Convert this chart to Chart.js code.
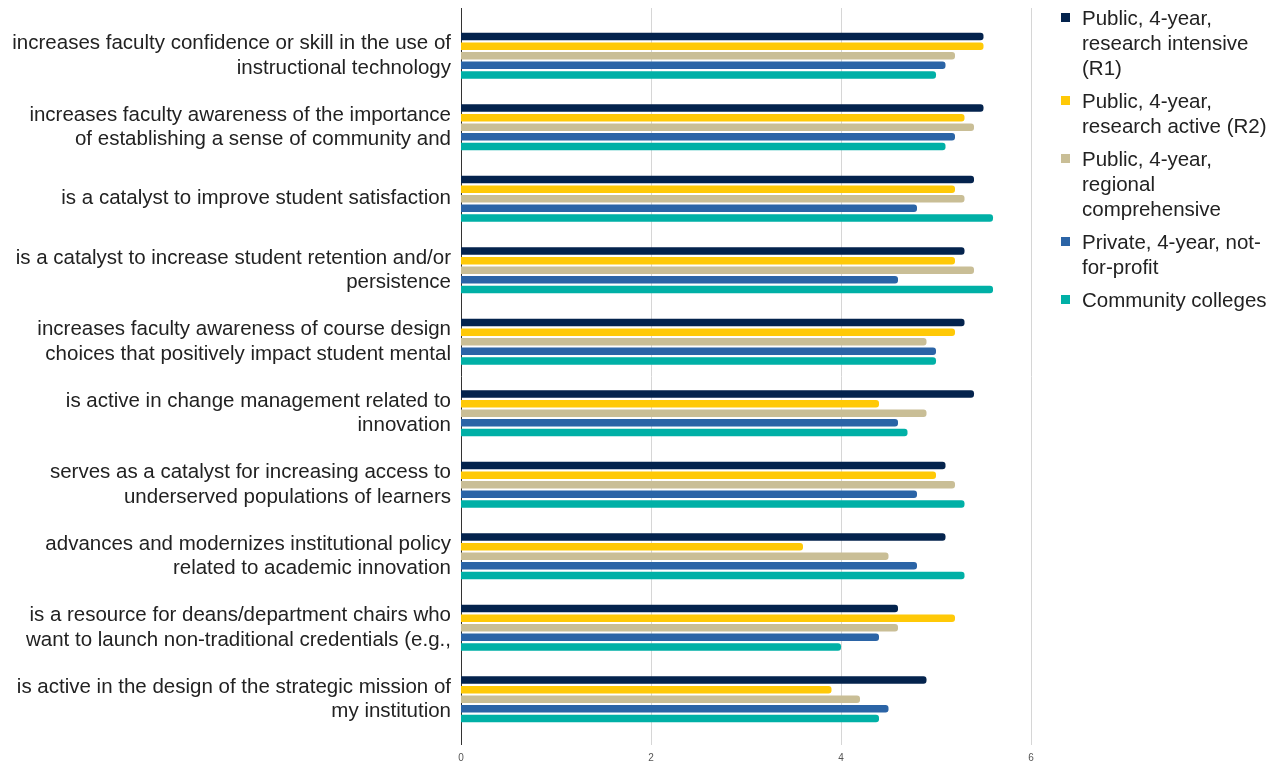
<!DOCTYPE html>
<html>
<head>
<meta charset="utf-8">
<script src="https://cdn.jsdelivr.net/npm/chart.js@4.4.0/dist/chart.umd.min.js"></script>
<style>
html, body { margin: 0; padding: 0; background: #fff; }
#wrap { position: relative; width: 1281px; height: 765px; }
#legend { position: absolute; left: 1061px; top: 5px; font: 20.5px "Liberation Sans", Arial, sans-serif; color: #222; }
.item { position: relative; padding-left: 21px; margin-bottom: 8px; line-height: 25px; white-space: nowrap; }
.sw { position: absolute; left: 0; top: 8px; width: 9px; height: 9px; }
</style>
</head>
<body>
<div id="wrap">
  <canvas id="chart" width="1281" height="765"></canvas>
  <div id="legend"></div>
</div>
<script>
const categories = [
    ['increases faculty confidence or skill in the use of', 'instructional technology'],
    ['increases faculty awareness of the importance', 'of establishing a sense of community and'],
    'is a catalyst to improve student satisfaction',
    ['is a catalyst to increase student retention and/or', 'persistence'],
    ['increases faculty awareness of course design', 'choices that positively impact student mental'],
    ['is active in change management related to', 'innovation'],
    ['serves as a catalyst for increasing access to', 'underserved populations of learners'],
    ['advances and modernizes institutional policy', 'related to academic innovation'],
    ['is a resource for deans/department chairs who', 'want to launch non-traditional credentials (e.g.,'],
    ['is active in the design of the strategic mission of', 'my institution']
];

const seriesNames = [
    ['Public, 4-year,', 'research intensive', '(R1)'],
    ['Public, 4-year,', 'research active (R2)'],
    ['Public, 4-year,', 'regional', 'comprehensive'],
    ['Private, 4-year, not-', 'for-profit'],
    ['Community colleges']
];

const r1Values       = [5.5, 5.5, 5.4, 5.3, 5.3, 5.4, 5.1, 5.1, 4.6, 4.9];
const r2Values       = [5.5, 5.3, 5.2, 5.2, 5.2, 4.4, 5.0, 3.6, 5.2, 3.9];
const regionalValues = [5.2, 5.4, 5.3, 5.4, 4.9, 4.9, 5.2, 4.5, 4.6, 4.2];
const privateValues  = [5.1, 5.2, 4.8, 4.6, 5.0, 4.6, 4.8, 4.8, 4.4, 4.5];
const ccValues       = [5.0, 5.1, 5.6, 5.6, 5.0, 4.7, 5.3, 5.3, 4.0, 4.4];

const xTicks = [0, 2, 4, 6];

const colors = ['#04234d', '#ffc907', '#c9be96', '#2b64a6', '#00b0a6'];
const allValues = [r1Values, r2Values, regionalValues, privateValues, ccValues];

// grid lines drawn a bit taller than the chart area, like the original
const gridLines = {
    id: 'gridLines',
    beforeDatasetsDraw(chart) {
        const { ctx, chartArea, scales } = chart;
        ctx.save();
        ctx.lineWidth = 1;
        xTicks.forEach(v => {
            const x = Math.round(scales.x.getPixelForValue(v)) + 0.5;
            ctx.strokeStyle = v === 0 ? '#333333' : '#d6d6d6';
            ctx.beginPath();
            ctx.moveTo(x, chartArea.top - 12);
            ctx.lineTo(x, chartArea.bottom + 10);
            ctx.stroke();
        });
        ctx.restore();
    }
};

const ctx = document.getElementById('chart').getContext('2d');
const chart = new Chart(ctx, {
    type: 'bar',
    data: {
        labels: categories,
        datasets: allValues.map((vals, i) => ({
            label: seriesNames[i].join(' '),
            data: vals,
            backgroundColor: colors[i],
            borderRadius: 3,
            barPercentage: 0.78,
            categoryPercentage: 0.67
        }))
    },
    options: {
        indexAxis: 'y',
        responsive: false,
        animation: false,
        layout: {
            padding: { top: 20, right: 250, bottom: 0, left: 0 }
        },
        scales: {
            x: {
                min: 0,
                max: 6,
                afterFit: s => { s.height = 30; s.paddingLeft = 0; s.paddingRight = 0; },
                afterBuildTicks: s => { s.ticks = xTicks.map(v => ({ value: v })); },
                grid: { display: false, drawTicks: false },
                border: { display: false },
                ticks: {
                    padding: 17,
                    color: '#555',
                    font: { family: '"Liberation Sans", Arial, sans-serif', size: 10 }
                }
            },
            y: {
                afterFit: s => { s.width = 461; s.paddingTop = 0; s.paddingBottom = 0; },
                grid: { display: false, drawTicks: false },
                border: { display: false },
                ticks: {
                    padding: 10,
                    color: '#222',
                    font: { family: '"Liberation Sans", Arial, sans-serif', size: 20.5, lineHeight: 1.2 }
                }
            }
        },
        plugins: {
            legend: { display: false },
            tooltip: { enabled: false }
        }
    },
    plugins: [gridLines]
});

// legend built from the series names
const legend = document.getElementById('legend');
seriesNames.forEach((lines, i) => {
    const item = document.createElement('div');
    item.className = 'item';
    const sw = document.createElement('span');
    sw.className = 'sw';
    sw.style.background = colors[i];
    item.appendChild(sw);
    lines.forEach((t, j) => {
        if (j) item.appendChild(document.createElement('br'));
        item.appendChild(document.createTextNode(t));
    });
    legend.appendChild(item);
});
</script>
</body>
</html>
